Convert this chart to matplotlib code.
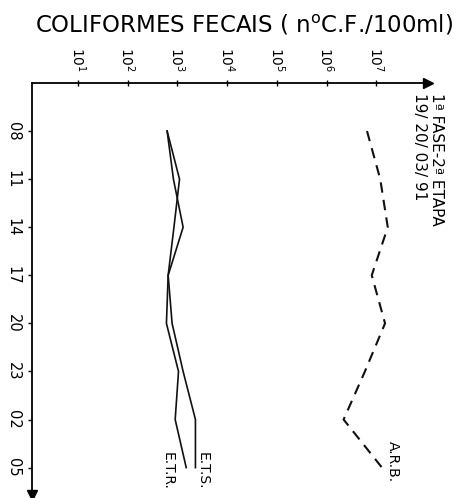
import matplotlib
matplotlib.use("Agg")
import matplotlib.pyplot as plt
import numpy as np

hours = ["08", "11", "14", "17", "20", "23", "02", "05"]
arb = [6.5e6, 1.2e7, 1.7e7, 8.1e6, 1.5e7, 5.9e6, 2.2e6, 1.3e7]
ets = [620, 830, 1300, 650, 780, 1300, 2300, 2300]
etr = [620, 1100, 850, 650, 600, 1050, 900, 1500]
xtick_vals = [1e1, 1e2, 1e3, 1e4, 1e5, 1e6, 1e7]
xtick_labels = [r"$10^{%d}$" % k for k in range(1, 8)]

plt.rcParams['font.family'] = ['DejaVu Sans']
fig = plt.figure(figsize=(4.68, 4.98), dpi=100)
ax = fig.add_axes([32/468, 1-495/498, (428-32)/468, (495-83)/498])

y = np.arange(len(hours))
ax.plot(ets, y, color='#111111', lw=1.2)
ax.plot(etr, y, color='#111111', lw=1.2)
ax.plot(arb, y, color='#111111', lw=1.5, dashes=(5, 3.5))

ax.set_xscale('log')
ax.set_xlim(10**0.074, 10**8.04)
ax.set_ylim(7.57, -1.0)

ax.xaxis.tick_top()
ax.set_xticks(xtick_vals)
ax.set_xticklabels(xtick_labels, rotation=-90, fontsize=10)
ax.xaxis.set_minor_locator(matplotlib.ticker.NullLocator())
ax.tick_params(axis='x', direction='inout', length=4, width=1, pad=6)

ax.set_yticks(y)
ax.set_yticklabels(hours, rotation=-90, fontsize=10.5, va='center')
ax.tick_params(axis='y', direction='out', length=3, width=1, pad=5)

for s in ['right', 'bottom']:
    ax.spines[s].set_visible(False)
for s in ['top', 'left']:
    ax.spines[s].set_linewidth(1.3)

ax.plot(1, 1, marker='>', color='k', markersize=7, transform=ax.transAxes, clip_on=False)
ax.plot(0, 0, marker='v', color='k', markersize=7, transform=ax.transAxes, clip_on=False)

fig.text(244/468, 1-25/498, r"COLIFORMES FECAIS ( n$^{\mathrm{o}}$C.F./100ml)",
         ha='center', va='center', fontsize=16.5)

fig.text(437/468, 1-93/498, "1ª FASE-2ª ETAPA", rotation=-90, ha='center', va='top', fontsize=11)
fig.text(420/468, 1-93/498, "19/ 20/ 03/ 91", rotation=-90, ha='center', va='top', fontsize=11)

fig.text(393/468, 1-441/498, "A.R.B.", rotation=-90, ha='center', va='top', fontsize=10)
fig.text(203/468, 1-452/498, "E.T.S.", rotation=-90, ha='center', va='top', fontsize=10)
fig.text(168/468, 1-452/498, "E.T.R.", rotation=-90, ha='center', va='top', fontsize=10)

fig.savefig("out.png", dpi=100, facecolor='white')
